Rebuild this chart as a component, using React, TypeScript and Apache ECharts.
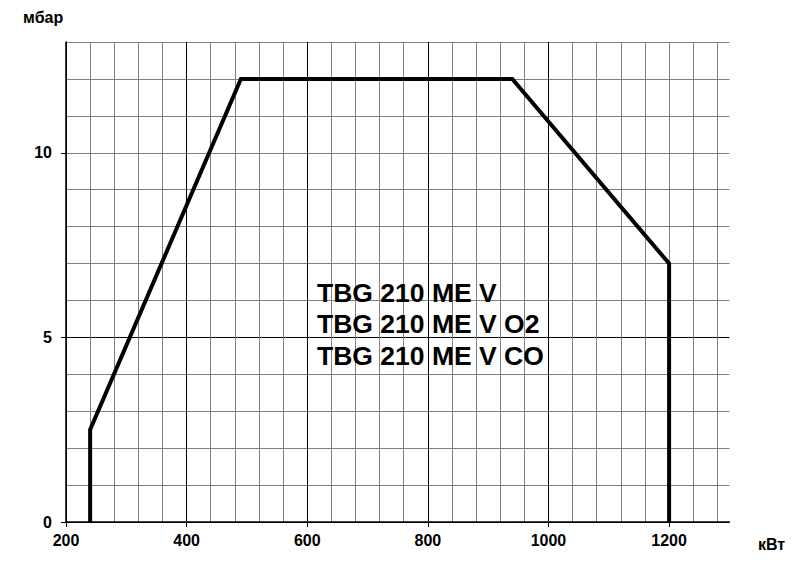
import React, { useEffect, useRef } from "react";
import * as echarts from "echarts";

// Data
const powerKw = [240, 240, 490, 940, 1200, 1200];
const pressureMbar = [0, 2.5, 12, 12, 7, 0];
const xTickLabels = [200, 400, 600, 800, 1000, 1200];
const yTickLabels = [0, 5, 10];
const modelNames = ["TBG 210 ME V", "TBG 210 ME V O2", "TBG 210 ME V CO"];
const xUnit = "кВт";
const yUnit = "мбар";

const FONT = "'Liberation Sans', Arial, sans-serif";

export default function App() {
  const ref = useRef<HTMLDivElement>(null);
  useEffect(() => {
    if (!ref.current) return;
    const chart = echarts.init(ref.current, undefined, { renderer: "svg" });
    const grid = { left: 66, right: 64.6, top: 42, bottom: 45 };
    chart.setOption({
      animation: false,
      backgroundColor: "#ffffff",
      grid,
      xAxis: [
        {
          type: "value",
          position: "bottom",
          min: 200,
          max: 1300,
          interval: 40,
          axisLine: { show: false },
          axisTick: { show: false },
          axisLabel: { show: false },
          splitLine: { show: true, showMaxLine: false, lineStyle: { color: "#808080", width: 1 } },
        },
        {
          type: "value",
          position: "bottom",
          min: 200,
          max: 1300,
          interval: 200,
          axisLine: { show: true, onZero: false, lineStyle: { color: "#000", width: 1.5 } },
          axisTick: { show: true, length: 5, customValues: xTickLabels, lineStyle: { color: "#000", width: 1 } },
          axisLabel: {
            show: true,
            customValues: xTickLabels,
            formatter: (v: number) => String(v),
            margin: 10,
            color: "#000",
            fontFamily: FONT,
            fontWeight: "bold",
            fontSize: 16,
          },
          splitLine: { show: true, showMaxLine: false, lineStyle: { color: "#000", width: 1 } },
        },
      ],
      yAxis: [
        {
          type: "value",
          position: "left",
          min: 0,
          max: 13,
          interval: 1,
          axisLine: { show: false },
          axisTick: { show: false },
          axisLabel: { show: false },
          splitLine: { show: true, lineStyle: { color: "#808080", width: 1 } },
        },
        {
          type: "value",
          min: 0,
          max: 13,
          interval: 5,
          position: "left",
          axisLine: { show: true, onZero: false, lineStyle: { color: "#000", width: 1.5 } },
          axisTick: { show: true, length: 5, customValues: yTickLabels, lineStyle: { color: "#000", width: 1 } },
          axisLabel: {
            show: true,
            customValues: yTickLabels,
            formatter: (v: number) => String(v),
            margin: 14,
            color: "#000",
            fontFamily: FONT,
            fontWeight: "bold",
            fontSize: 16,
          },
          splitLine: { show: true, showMaxLine: false, lineStyle: { color: "#000", width: 1 } },
        },
      ],
      series: [
        {
          type: "line",
          xAxisIndex: 1,
          yAxisIndex: 1,
          data: powerKw.map((x, i) => [x, pressureMbar[i]]),
          showSymbol: false,
          symbol: "none",
          lineStyle: { color: "#000", width: 4, join: "miter" },
          z: 10,
        },
      ],
      graphic: [
        {
          type: "text",
          left: 23,
          top: 9,
          style: { text: yUnit, fill: "#000", font: `bold 16px ${FONT}` },
        },
        {
          type: "text",
          left: 758,
          top: 536,
          style: { text: xUnit, fill: "#000", font: `bold 16px ${FONT}` },
        },
        ...modelNames.map((t, i) => ({
          type: "text",
          left: 317,
          top: 279 + i * 31.5,
          z: 20,
          style: { text: t, fill: "#000", font: `bold 26.5px ${FONT}` },
        })),
      ],
    });
    return () => chart.dispose();
  }, []);
  return <div ref={ref} style={{ width: 794, height: 567, position: "absolute", left: 0, top: 0 }} />;
}
